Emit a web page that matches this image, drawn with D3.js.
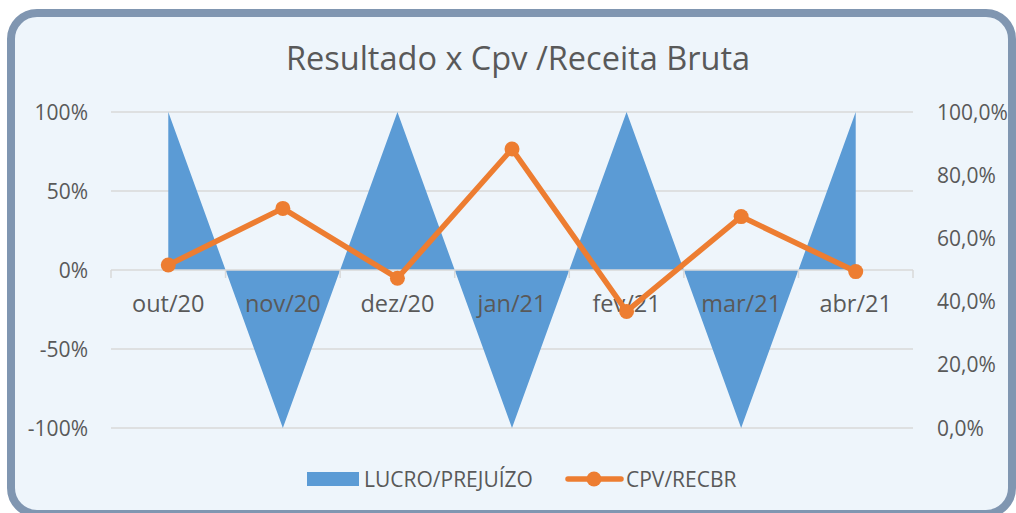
<!DOCTYPE html>
<html><head><meta charset="utf-8">
<script src="https://cdn.jsdelivr.net/npm/d3@7"></script>
<style>html,body{margin:0;padding:0;background:#fff;overflow:hidden}</style>
</head><body>
<svg id="c" width="1016" height="513"></svg>
<script>
const categories = ["out/20","nov/20","dez/20","jan/21","fev/21","mar/21","abr/21"];
const lucroPrejuizo = [1, -1, 1, -1, 1, -1, 1];
const cpvRecbr = [0.516, 0.695, 0.474, 0.883, 0.369, 0.669, 0.495];
const leftTicks = [-1, -0.5, 0, 0.5, 1];
const rightTicks = [0, 0.2, 0.4, 0.6, 0.8, 1];
const seriesNames = ["LUCRO/PREJUÍZO", "CPV/RECBR"];
const title = "Resultado x Cpv /Receita Bruta";

const svg = d3.select("#c");
const font = "'Open Sans', sans-serif";
const txt = "#595959";
const blue = "#5b9bd5", orange = "#ed7d31";

svg.append("rect").attr("x",11).attr("y",13).attr("width",1001).attr("height",501)
  .attr("rx",26).attr("ry",26).attr("fill","#eef5fb").attr("stroke","#8096b1").attr("stroke-width",8);

const L = 111, R = 913, T = 112, B = 428;
const x = d3.scaleBand().domain(categories).range([L, R]);
const yL = d3.scaleLinear().domain([-1, 1]).range([B, T]);
const yR = d3.scaleLinear().domain([0, 1]).range([B, T]);
const cx = d => x(d) + x.bandwidth() / 2;

// gridlines
svg.append("g").selectAll("line").data(leftTicks.filter(t => t !== 0)).join("line")
  .attr("x1", L).attr("x2", R).attr("y1", d => yL(d)).attr("y2", d => yL(d))
  .attr("stroke", "#d9d9d9").attr("stroke-width", 1.5);

// area
const area = d3.area().x((d, i) => cx(categories[i])).y0(yL(0)).y1(d => yL(d));
svg.append("path").datum(lucroPrejuizo).attr("d", area).attr("fill", blue);

// x axis line and ticks
const xa = svg.append("g");
xa.append("line").attr("x1", L).attr("x2", R).attr("y1", yL(0)).attr("y2", yL(0))
  .attr("stroke", "#d9d9d9").attr("stroke-width", 1.5);
const bounds = categories.map(c => x(c)).concat([R]);
xa.selectAll("line.t").data(bounds).join("line").attr("class","t")
  .attr("x1", d => d).attr("x2", d => d).attr("y1", yL(0)).attr("y2", yL(0) + 8)
  .attr("stroke", "#d9d9d9").attr("stroke-width", 1.5);
xa.selectAll("text").data(categories).join("text")
  .attr("x", d => cx(d)).attr("y", yL(0) + 42).attr("text-anchor", "middle")
  .attr("font-family", font).attr("font-size", 23.5).attr("fill", txt).text(d => d);

// left axis labels
const pctL = d => Math.round(d * 100) + "%";
svg.append("g").selectAll("text").data(leftTicks).join("text")
  .attr("x", 88).attr("y", d => yL(d) + 7.5).attr("text-anchor", "end")
  .attr("font-family", font).attr("font-size", 21).attr("fill", txt).text(pctL);

// right axis labels
const pctR = d => (d * 100).toFixed(1).replace(".", ",") + "%";
svg.append("g").selectAll("text").data(rightTicks).join("text")
  .attr("x", 937).attr("y", d => yR(d) + 7.5).attr("text-anchor", "start")
  .attr("font-family", font).attr("font-size", 21).attr("fill", txt).text(pctR);

// line
const line = d3.line().x((d, i) => cx(categories[i])).y(d => yR(d));
svg.append("path").datum(cpvRecbr).attr("d", line).attr("fill", "none")
  .attr("stroke", orange).attr("stroke-width", 5.5).attr("stroke-linejoin", "round");
svg.append("g").selectAll("circle").data(cpvRecbr).join("circle")
  .attr("cx", (d, i) => cx(categories[i])).attr("cy", d => yR(d)).attr("r", 7.5).attr("fill", orange);

// title
svg.append("text").attr("x", 518).attr("y", 70).attr("text-anchor", "middle")
  .attr("font-family", font).attr("font-size", 32.5).attr("fill", txt).text(title);

// legend
const lg = svg.append("g");
lg.append("rect").attr("x", 307).attr("y", 472).attr("width", 52).attr("height", 14).attr("fill", blue);
lg.append("text").attr("x", 364).attr("y", 486.5).attr("font-family", font).attr("font-size", 21)
  .attr("fill", txt).text(seriesNames[0]);
lg.append("line").attr("x1", 568).attr("x2", 621).attr("y1", 479).attr("y2", 479)
  .attr("stroke", orange).attr("stroke-width", 5.5).attr("stroke-linecap", "round");
lg.append("circle").attr("cx", 594).attr("cy", 479).attr("r", 7.5).attr("fill", orange);
lg.append("text").attr("x", 626).attr("y", 486.5).attr("font-family", font).attr("font-size", 21)
  .attr("fill", txt).text(seriesNames[1]);
</script>
</body></html>
